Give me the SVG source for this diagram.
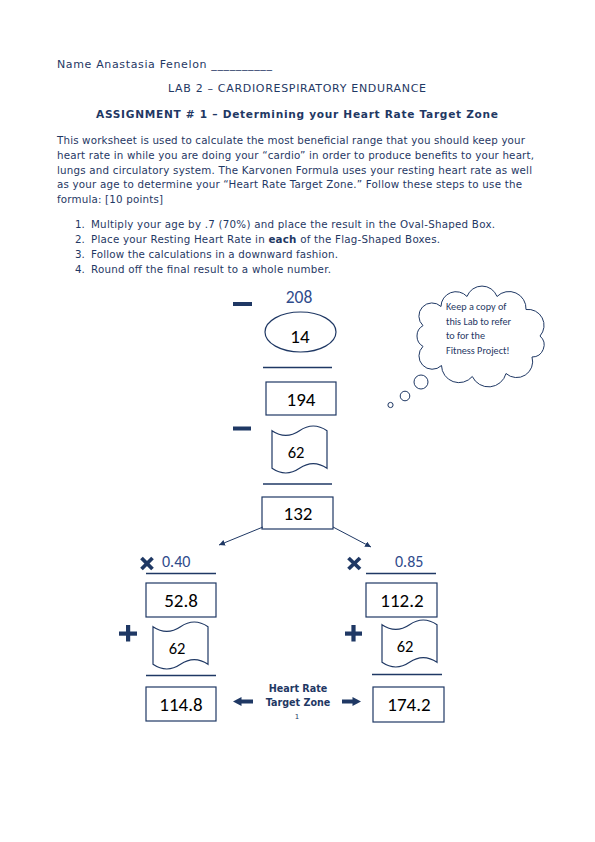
<svg xmlns="http://www.w3.org/2000/svg" width="595" height="842" viewBox="0 0 595 842">
<style>
.t{font-family:Verdana,"DejaVu Sans",sans-serif;font-size:10.3px;fill:#1F3864}
.h{font-size:11px}
.b{font-weight:bold}
.n{font-family:Calibri,"Liberation Sans",Arial,sans-serif;fill:#000;text-anchor:middle}
.nb{font-family:Calibri,"Liberation Sans",Arial,sans-serif;fill:#2F4B8C}
.box{fill:#fff;stroke:#1F3864;stroke-width:1.2}
.rule{stroke:#1F3864;stroke-width:1.3}
.op{fill:#1F3864}
.x{stroke:#1F3864;stroke-width:3.8}
.conn{stroke:#1F3864;stroke-width:1;fill:none}
.cloud{fill:#fff;stroke:#1F3864;stroke-width:1}
.ct{font-family:Calibri,"Liberation Sans",Arial,sans-serif;font-size:10.2px;fill:#1F3864}
.hz{font-family:Verdana,"DejaVu Sans",sans-serif;font-size:9.6px;font-weight:bold;fill:#1F3864;text-anchor:middle}
</style>
<defs>
<path id="flag" d="M0,4.7 Q13.75,14.1 27.5,4.7 T55,4.7 L55,42.3 Q41.25,32.9 27.5,42.3 T0,42.3 Z"/>
<marker id="ah" markerWidth="8" markerHeight="8" refX="6" refY="3" orient="auto" markerUnits="userSpaceOnUse">
<path d="M0,0 L6,3 L0,6 Z" fill="#1F3864"/>
</marker>
</defs>
<rect width="595" height="842" fill="#fff"/>

<g id="header">
<text class="t h" x="57" y="68" textLength="215">Name Anastasia Fenelon __________</text>
<text class="t h" x="297" y="92" text-anchor="middle" textLength="258">LAB 2 – CARDIORESPIRATORY ENDURANCE</text>
<text class="t b" x="297" y="118" text-anchor="middle" textLength="402" style="font-size:10.6px">ASSIGNMENT # 1 – Determining your Heart Rate Target Zone</text>
</g>

<g id="intro">
<text class="t" x="57" y="144" textLength="468">This worksheet is used to calculate the most beneficial range that you should keep your</text>
<text class="t" x="57" y="159" textLength="477">heart rate in while you are doing your “cardio” in order to produce benefits to your heart,</text>
<text class="t" x="57" y="174" textLength="475">lungs and circulatory system. The Karvonen Formula uses your resting heart rate as well</text>
<text class="t" x="57" y="188" textLength="465">as your age to determine your “Heart Rate Target Zone.” Follow these steps to use the</text>
<text class="t" x="57" y="203" textLength="106">formula: [10 points]</text>
</g>

<g id="steps">
<text class="t" x="75" y="228">1.</text>
<text class="t" x="91" y="228" textLength="404">Multiply your age by .7 (70%) and place the result in the Oval-Shaped Box.</text>
<text class="t" x="75" y="243">2.</text>
<text class="t" x="91" y="243" textLength="349">Place your Resting Heart Rate in <tspan class="b">each</tspan> of the Flag-Shaped Boxes.</text>
<text class="t" x="75" y="258">3.</text>
<text class="t" x="91" y="258" textLength="247">Follow the calculations in a downward fashion.</text>
<text class="t" x="75" y="273">4.</text>
<text class="t" x="91" y="273" textLength="240">Round off the final result to a whole number.</text>
</g>

<g id="cloud">
<path class="cloud" d="M540,336 A12,12 0 0 1 532,357 A16,16 0 0 1 506,373.5 A18,18 0 0 1 472.3,376.5 A17.5,17.5 0 0 1 441.5,365.5 A13,13 0 0 1 423,346.4 A12,12 0 0 1 423,325.6 A13,13 0 0 1 441,306.5 A15,15 0 0 1 467,296.5 A16,16 0 0 1 497,296.5 A17,17 0 0 1 526,309.5 A16,16 0 0 1 540,336 Z"/>
<circle class="cloud" cx="421" cy="382" r="7"/>
<circle class="cloud" cx="405" cy="396" r="4.8"/>
<circle class="cloud" cx="390.5" cy="405" r="2.6"/>
<text class="ct" x="446" y="310">Keep a copy of</text>
<text class="ct" x="446" y="324.5">this Lab to refer</text>
<text class="ct" x="446" y="339">to for the</text>
<text class="ct" x="446" y="353.5">Fitness Project!</text>
</g>

<g id="step208">
<rect class="op" x="233" y="302" width="19" height="4"/>
<text class="nb" x="299" y="302.5" font-size="17.5" text-anchor="middle">208</text>
</g>
<g id="oval14">
<ellipse class="box" cx="300.5" cy="332" rx="35.5" ry="20"/>
<text class="n" x="300" y="343" font-size="19">14</text>
</g>
<line class="rule" x1="263" y1="367.5" x2="332" y2="367.5"/>
<g id="box194">
<rect class="box" x="266" y="382" width="70" height="33"/>
<text class="n" x="301" y="405.5" font-size="19">194</text>
</g>
<g id="flag62a">
<rect class="op" x="233" y="426.5" width="18" height="4"/>
<use href="#flag" x="272" y="426" class="box"/>
<text class="n" x="296" y="457.5" font-size="16.5">62</text>
</g>
<line class="rule" x1="263" y1="484" x2="332" y2="484"/>
<g id="box132">
<rect class="box" x="262" y="497" width="71" height="32"/>
<text class="n" x="298" y="520" font-size="19">132</text>
</g>

<g id="connectors">
<line class="conn" x1="263" y1="527" x2="219" y2="545" marker-end="url(#ah)"/>
<line class="conn" x1="333" y1="527" x2="371" y2="547" marker-end="url(#ah)"/>
</g>

<g id="left-branch">
<line class="x" x1="141.5" y1="558" x2="152.5" y2="569"/>
<line class="x" x1="152.5" y1="558" x2="141.5" y2="569"/>
<text class="nb" x="162" y="567" font-size="16">0.40</text>
<line class="rule" x1="146" y1="573.5" x2="216" y2="573.5"/>
</g>
<g id="box52">
<rect class="box" x="146" y="583" width="70" height="34"/>
<text class="n" x="181" y="606.5" font-size="19">52.8</text>
</g>
<g id="flag62b">
<rect class="op" x="119" y="631.5" width="18" height="4.2"/>
<rect class="op" x="126" y="625" width="4.2" height="16.5"/>
<use href="#flag" x="153" y="622" class="box"/>
<text class="n" x="177" y="653.5" font-size="16.5">62</text>
</g>
<line class="rule" x1="146" y1="675.5" x2="216" y2="675.5"/>
<g id="box1148">
<rect class="box" x="146" y="687" width="70" height="34"/>
<text class="n" x="181" y="710.5" font-size="19">114.8</text>
</g>

<g id="right-branch">
<line class="x" x1="348.5" y1="558" x2="360" y2="569"/>
<line class="x" x1="360" y1="558" x2="348.5" y2="569"/>
<text class="nb" x="395" y="567" font-size="16">0.85</text>
<line class="rule" x1="366" y1="573.5" x2="436" y2="573.5"/>
</g>
<g id="box1122">
<rect class="box" x="366" y="583" width="71" height="34"/>
<text class="n" x="402" y="606.5" font-size="19">112.2</text>
</g>
<g id="flag62c">
<rect class="op" x="345" y="631.5" width="17" height="4.2"/>
<rect class="op" x="351.4" y="625" width="4.2" height="16.5"/>
<use href="#flag" x="382" y="620" class="box"/>
<text class="n" x="405" y="651.5" font-size="16.5">62</text>
</g>
<line class="rule" x1="372" y1="674.5" x2="442" y2="674.5"/>
<g id="box1742">
<rect class="box" x="373" y="687" width="71" height="35"/>
<text class="n" x="409" y="711" font-size="19">174.2</text>
</g>

<g id="target-zone">
<path class="op" d="M233,701.5 L241.5,697 L241.5,699.5 L253,699.5 L253,703.5 L241.5,703.5 L241.5,706 Z"/>
<path class="op" d="M361,701.5 L352.5,697 L352.5,699.5 L342,699.5 L342,703.5 L352.5,703.5 L352.5,706 Z"/>
<text class="hz" x="298" y="692">Heart Rate</text>
<text class="hz" x="298" y="706">Target Zone</text>
<text class="t" x="297" y="719" text-anchor="middle" style="font-size:7px">1</text>
</g>
</svg>
